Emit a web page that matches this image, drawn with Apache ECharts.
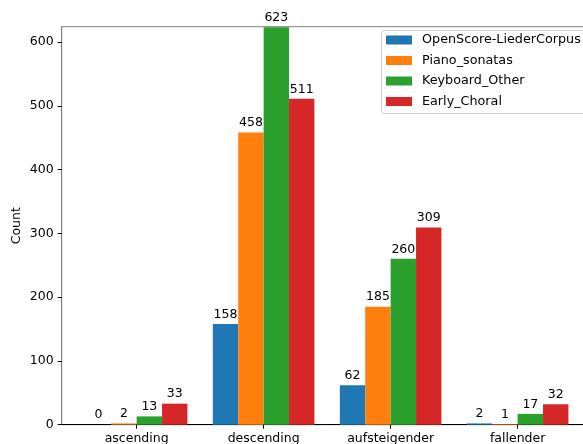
<!DOCTYPE html>
<html>
<head>
<meta charset="utf-8">
<script src="https://cdn.jsdelivr.net/npm/echarts@6/dist/echarts.min.js"></script>
<style>
  html, body { margin: 0; padding: 0; background: #fff; }
  #chart { width: 583px; height: 444px; }
</style>
</head>
<body>
<div id="chart"></div>
<script>
// Pattern categories and per-corpus counts
const categories = ['ascending', 'descending', 'aufsteigender', 'fallender'];
const seriesNames = ['OpenScore-LiederCorpus', 'Piano_sonatas', 'Keyboard_Other', 'Early_Choral'];
const liederCorpus = [0, 158, 62, 2];
const pianoSonatas = [2, 458, 185, 1];
const keyboardOther = [13, 623, 260, 17];
const earlyChoral = [33, 511, 309, 32];
const yTicks = [0, 100, 200, 300, 400, 500, 600];

const colors = ['#1f77b4', '#ff7f0e', '#2ca02c', '#d62728'];
const seriesValues = [liederCorpus, pianoSonatas, keyboardOther, earlyChoral];

const font = 'DejaVu Sans';
const fontSize = 12.5;
const groupWidth = 0.8;
const slot = groupWidth / seriesNames.length;   // 0.2 per bar
const pxPerUnit = 127;
const gridLeft = 61.7;
const xMin = -0.59, xMax = 3.59;

const chart = echarts.init(document.getElementById('chart'), null, { renderer: 'canvas' });

const series = seriesNames.map((name, i) => ({
  name,
  type: 'bar',
  barWidth: slot * pxPerUnit,
  barGap: '-100%',
  itemStyle: { color: colors[i] },
  label: {
    show: true,
    position: 'top',
    distance: 3,
    color: '#000',
    fontFamily: font,
    fontSize: fontSize,
    formatter: p => String(p.value[1])
  },
  data: seriesValues[i].map((v, k) => [k + (i - (seriesNames.length - 1) / 2) * slot, v])
}));

chart.setOption({
  animation: false,
  backgroundColor: '#fff',
  textStyle: { fontFamily: font },
  grid: {
    left: gridLeft,
    top: 26.7,
    width: (xMax - xMin) * pxPerUnit,
    height: 424.7 - 26.7,
    outerBoundsMode: 'none',
    containLabel: false,
    show: true,
    borderColor: '#7f7f7f',
    borderWidth: 1,
    backgroundColor: 'transparent'
  },
  // legend frame, running past the right edge of the canvas
  graphic: [{
    type: 'rect',
    left: 381,
    top: 30,
    z: 1,
    shape: { width: 240, height: 83, r: 3 },
    style: { fill: 'rgba(255,255,255,0.8)', stroke: '#cccccc', lineWidth: 1 }
  }],
  legend: {
    orient: 'vertical',
    left: 381,
    top: 30,
    z: 10,
    icon: 'rect',
    itemWidth: 26,
    itemHeight: 9,
    itemGap: 7.5,
    padding: [3.5, 0, 6, 5],
    textStyle: { fontFamily: font, fontSize: 12.75, color: '#000', padding: [0, 0, 0, 5] },
    data: seriesNames
  },
  xAxis: {
    type: 'value',
    min: xMin,
    max: xMax,
    splitLine: { show: false },
    axisLine: { show: true, onZero: false, lineStyle: { color: '#000', width: 1 } },
    axisTick: {
      show: true,
      length: 4,
      lineStyle: { color: '#000' },
      customValues: categories.map((c, k) => k)
    },
    axisLabel: {
      show: true,
      margin: 8,
      color: '#000',
      fontFamily: font,
      fontSize: fontSize,
      customValues: categories.map((c, k) => k),
      formatter: v => categories[Math.round(v)]
    }
  },
  yAxis: {
    type: 'value',
    min: 0,
    max: 624,
    name: 'Count',
    nameLocation: 'middle',
    nameRotate: 90,
    nameGap: 38,
    nameMoveOverlap: false,
    nameTextStyle: { fontFamily: font, fontSize: fontSize, color: '#000' },
    splitLine: { show: false },
    axisLine: { show: true, onZero: false, lineStyle: { color: '#7f7f7f', width: 1 } },
    axisTick: {
      show: true,
      length: 4,
      lineStyle: { color: '#000' },
      customValues: yTicks
    },
    axisLabel: {
      margin: 8,
      color: '#000',
      fontFamily: font,
      fontSize: fontSize,
      customValues: yTicks
    }
  },
  series
});
</script>
</body>
</html>
